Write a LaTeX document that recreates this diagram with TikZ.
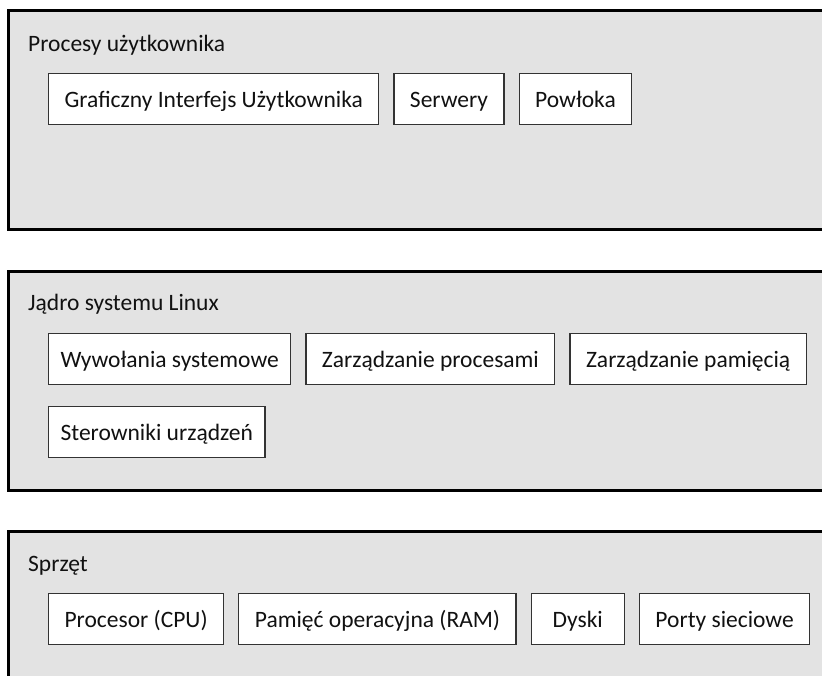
\documentclass[tikz,border=0pt]{standalone}
\usepackage{fontspec}
\setmainfont{Carlito}
\usetikzlibrary{positioning}
\usepackage{xcolor}
\definecolor{panel}{HTML}{E3E3E3}
\definecolor{ink}{HTML}{111111}
\definecolor{edge}{HTML}{333333}
\newcommand{\Lx}{8}
\newcommand{\Rx}{830}
\newcommand{\Bx}{48}

\begin{document}
\begin{tikzpicture}[x=1pt,y=-1pt, every node/.style={text=ink, font=\fontsize{23.5}{28}\selectfont},
  comp/.style={draw=edge, fill=white, line width=1.2pt, minimum height=51pt, minimum width=93pt, inner xsep=16pt, inner ysep=0pt, text height=20pt, text depth=3pt},
  rim/.style={draw=black, line width=3pt},
  node distance=14pt]
\useasboundingbox (0,0) rectangle (822,676);
% ---- LAYER 1: user processes
\fill[panel] (\Lx,11) rectangle (\Rx,230);
\draw[rim] (\Rx,11) -- (\Lx,11) -- (\Lx,230) -- (\Rx,230);
\node[anchor=base west, inner sep=0pt] (user) at (28,52) {Procesy użytkownika};
\node[comp, anchor=north west] (gui) at (\Bx,73) {Graficzny Interfejs Użytkownika};
\node[comp, right=of gui] (srv) {Serwery};
\node[comp, right=of srv] (shell) {Powłoka};
% ---- LAYER 2: kernel
\fill[panel] (\Lx,272) rectangle (\Rx,490);
\draw[rim] (\Rx,272) -- (\Lx,272) -- (\Lx,490) -- (\Rx,490);
\node[anchor=base west, inner sep=0pt] (kernel) at (28,311) {Jądro systemu Linux};
\node[comp, inner xsep=12pt, anchor=north west] (calls) at (\Bx,333) {Wywołania systemowe};
\node[comp, right=of calls] (procs) {Zarządzanie procesami};
\node[comp, right=of procs] (mem) {Zarządzanie pamięcią};
\node[comp, inner xsep=12pt, anchor=north west] (drv) at (\Bx,406) {Sterowniki urządzeń};
% ---- LAYER 3: hardware
\fill[panel] (\Lx,531) rectangle (\Rx,680);
\draw[rim] (\Rx,531) -- (\Lx,531) -- (\Lx,680);
\node[anchor=base west, inner sep=0pt] (hw) at (28,571) {Sprzęt};
\node[comp, anchor=north west] (cpu) at (\Bx,593) {Procesor (CPU)};
\node[comp, right=of cpu] (ram) {Pamięć operacyjna (RAM)};
\node[comp, right=of ram] (disk) {Dyski};
\node[comp, right=of disk] (net) {Porty sieciowe};
\end{tikzpicture}
\end{document}
